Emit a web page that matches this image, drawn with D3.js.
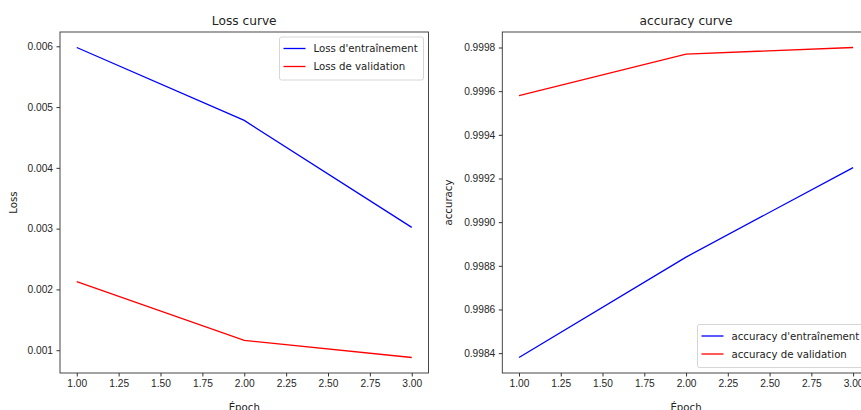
<!DOCTYPE html>
<html>
<head>
<meta charset="utf-8">
<script src="https://cdn.jsdelivr.net/npm/d3@7"></script>
<style>
  body { margin: 0; background: #fff; }
  svg { display: block; font-family: "DejaVu Sans", sans-serif; }
  .tick text { fill: #262626; font-size: 10.2px; }
  .tick line, .domain { stroke: #333; }
</style>
</head>
<body>
<div id="chart"></div>
<script>
var epochs = [1, 2, 3];
var loss_train = [0.00598, 0.00478, 0.00302];
var loss_val = [0.00213, 0.00116, 0.00088];
var acc_train = [0.99838, 0.99884, 0.99925];
var acc_val = [0.99958, 0.99977, 0.99980];

var x_ticks = [1.00, 1.25, 1.50, 1.75, 2.00, 2.25, 2.50, 2.75, 3.00];
var loss_ticks = [0.001, 0.002, 0.003, 0.004, 0.005, 0.006];
var acc_ticks = [0.9984, 0.9986, 0.9988, 0.9990, 0.9992, 0.9994, 0.9996, 0.9998];

var svg = d3.select("#chart")
  .append("svg")
  .attr("width", 861)
  .attr("height", 410);

//matplotlib style 5% margin around the data
function padded(arr, m) {
  var lo = d3.min(arr), hi = d3.max(arr);
  var pad = (hi - lo) * m;
  return [lo - pad, hi + pad];
}

function drawPanel(opts) {
  var x = d3.scaleLinear()
    .domain(padded(epochs, 0.05))
    .range([opts.left, opts.right]);
  var y = d3.scaleLinear()
    .domain(padded(opts.train.concat(opts.val), 0.05))
    .range([373, 32]);

  var g = svg.append("g");

  g.append("g")
    .attr("transform", "translate(0,373)")
    .call(d3.axisBottom(x).tickValues(x_ticks).tickFormat(d3.format(".2f"))
      .tickSize(3.5).tickPadding(3.5))
    .call(a => a.select(".domain").remove());

  g.append("g")
    .attr("transform", "translate(" + opts.left + ",0)")
    .call(d3.axisLeft(y).tickValues(opts.ticks).tickFormat(d3.format(opts.fmt))
      .tickSize(3.5).tickPadding(3.5))
    .call(a => a.select(".domain").remove());

  //axes frame
  g.append("rect")
    .attr("x", opts.left)
    .attr("y", 32)
    .attr("width", opts.right - opts.left)
    .attr("height", 373 - 32)
    .attr("fill", "none")
    .attr("stroke", "#333")
    .attr("stroke-width", 0.9);

  var line = d3.line()
    .x((d, i) => x(epochs[i]))
    .y(d => y(d));

  g.append("path")
    .datum(opts.train)
    .attr("d", line)
    .attr("fill", "none")
    .attr("stroke", "#0000ff")
    .attr("stroke-width", 1.3);

  g.append("path")
    .datum(opts.val)
    .attr("d", line)
    .attr("fill", "none")
    .attr("stroke", "#ff0000")
    .attr("stroke-width", 1.3);

  var cx = (opts.left + opts.right) / 2;

  g.append("text")
    .attr("x", cx)
    .attr("y", 25)
    .attr("text-anchor", "middle")
    .attr("font-size", "12.2px")
    .attr("fill", "#222")
    .text(opts.title);

  g.append("text")
    .attr("x", cx)
    .attr("y", 411)
    .attr("text-anchor", "middle")
    .attr("font-size", "10.2px")
    .attr("fill", "#222")
    .text("Époch");

  g.append("text")
    .attr("transform", "translate(" + opts.ylabelX + ",202.5) rotate(-90)")
    .attr("text-anchor", "middle")
    .attr("font-size", "10.2px")
    .attr("fill", "#222")
    .text(opts.ylabel);

  //legend
  var lg = g.append("g").attr("transform", "translate(" + opts.legX + "," + opts.legY + ")");
  lg.append("rect")
    .attr("width", opts.legW)
    .attr("height", 43)
    .attr("rx", 2)
    .attr("fill", "#fff")
    .attr("fill-opacity", 0.8)
    .attr("stroke", "#cccccc")
    .attr("stroke-width", 0.8);

  var items = [[opts.names[0], "#0000ff"], [opts.names[1], "#ff0000"]];
  items.forEach(function(it, i) {
    var yy = 11.5 + i * 18;
    lg.append("line")
      .attr("x1", 4).attr("x2", 26)
      .attr("y1", yy).attr("y2", yy)
      .attr("stroke", it[1])
      .attr("stroke-width", 1.3);
    lg.append("text")
      .attr("x", 34)
      .attr("y", yy + 3.7)
      .attr("font-size", "10.2px")
      .attr("fill", "#222")
      .text(it[0]);
  });
}

drawPanel({
  left: 60, right: 428.5,
  train: loss_train, val: loss_val,
  ticks: loss_ticks, fmt: ".3f",
  title: "Loss curve", ylabel: "Loss", ylabelX: 17,
  names: ["Loss d'entraînement", "Loss de validation"],
  legX: 279.5, legY: 37, legW: 144
});

drawPanel({
  left: 502.3, right: 869.8,
  train: acc_train, val: acc_val,
  ticks: acc_ticks, fmt: ".4f",
  title: "accuracy curve", ylabel: "accuracy", ylabelX: 452,
  names: ["accuracy d'entraînement", "accuracy de validation"],
  legX: 697.5, legY: 324.5, legW: 168
});
</script>
</body>
</html>
